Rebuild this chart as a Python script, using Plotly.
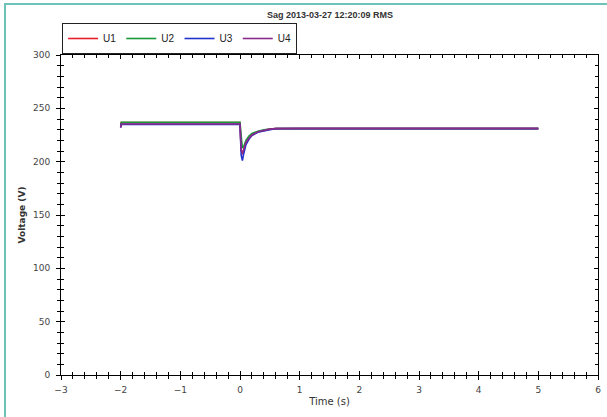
import plotly.graph_objects as go

# RMS voltage during the sag
time_s = [-2.0, -1.99, -0.01, 0.0, 0.02, 0.04, 0.06, 0.08, 0.1, 0.15, 0.2, 0.3, 0.4, 0.5, 0.6, 1.0, 5.0]
u1 = [233, 236.6, 236.6, 236.6, 211, 207, 211, 215, 218, 222, 225, 228, 229.5, 230.5, 231, 231, 231]
u2 = [234, 236.9, 236.9, 236.9, 224, 213, 214, 217, 220, 224, 226.5, 228.5, 230, 230.5, 231, 231, 231]
u3 = [232, 235.0, 235.0, 235.0, 206, 201, 207, 212, 216, 221, 224.5, 227.5, 229, 230, 231, 231, 231]
u4 = [232, 235.3, 235.3, 235.3, 211, 208, 211, 215, 218, 222, 225, 228, 229.5, 230.5, 231, 231.2, 231.2]

names = ["U1", "U2", "U3", "U4"]
series = [u1, u2, u3, u4]
colors = ["#e8202a", "#1a9a3a", "#2233cc", "#8a2a8a"]

fig = go.Figure()
for name, vals, col in zip(names, series, colors):
    fig.add_trace(go.Scatter(x=time_s, y=vals, mode="lines", name=name,
                             line=dict(color=col, width=1.6)))

# invisible trace on the overlay axes so the inner ticks are drawn
fig.add_trace(go.Scatter(x=[-3, 6], y=[0, 300], xaxis="x2", yaxis="y2",
                         mode="markers", marker=dict(opacity=0),
                         showlegend=False, hoverinfo="skip"))

font = "DejaVu Sans, Verdana, sans-serif"
tick_font = dict(family=font, size=9, color="#444")

fig.update_layout(
    width=607, height=417,
    margin=dict(l=61, r=9, t=55, b=42, autoexpand=False),
    paper_bgcolor="white", plot_bgcolor="white",
    title=dict(text="<b>Sag 2013-03-27 12:20:09 RMS</b>", x=0.5437, xanchor="center",
               y=0.964, yanchor="middle",
               font=dict(family="Liberation Sans, Arial, sans-serif", size=9, color="#333")),
    legend=dict(orientation="h", x=0.002, xanchor="left", y=1.1, yanchor="top",
                bordercolor="#222", borderwidth=1, bgcolor="white",
                font=dict(family="Liberation Sans, Arial, sans-serif", size=10, color="#222"),
                itemwidth=30, tracegroupgap=0),
    showlegend=True,
    xaxis=dict(range=[-3, 6], dtick=1, tick0=-3, ticks="outside", ticklen=4, tickwidth=1,
               tickcolor="black", showline=True, linecolor="black", linewidth=1,
               mirror=True, showgrid=False, zeroline=False, tickfont=tick_font,
               automargin=False, ticklabelstandoff=2,
               minor=dict(dtick=0.2, ticks="outside", ticklen=3, tickcolor="black"),
               title=dict(text="Time (s)", standoff=4,
                          font=dict(family=font, size=10, color="#333"))),
    yaxis=dict(range=[0, 300], dtick=50, ticks="outside", ticklen=4, tickwidth=1,
               tickcolor="black", showline=True, linecolor="black", linewidth=1,
               mirror=True, showgrid=False, zeroline=False, tickfont=tick_font,
               automargin=False, ticklabelstandoff=4,
               minor=dict(dtick=10, ticks="outside", ticklen=3, tickcolor="black"),
               title=dict(text="<b>Voltage (V)</b>", standoff=5,
                          font=dict(family=font, size=9, color="#333"))),
    xaxis2=dict(overlaying="x", range=[-3, 6], dtick=1, tick0=-3, ticks="inside",
                ticklen=4, tickcolor="black", mirror="ticks", showticklabels=False,
                showgrid=False, zeroline=False, showline=False, automargin=False,
                minor=dict(dtick=0.2, ticks="inside", ticklen=3, tickcolor="black")),
    yaxis2=dict(overlaying="y", range=[0, 300], dtick=50, ticks="inside",
                ticklen=4, tickcolor="black", mirror="ticks", showticklabels=False,
                showgrid=False, zeroline=False, showline=False, automargin=False,
                minor=dict(dtick=10, ticks="inside", ticklen=3, tickcolor="black")),
)

# teal frame round the whole picture
fig.add_shape(type="rect", xref="paper", yref="paper",
              x0=-0.1043, x1=1.022, y0=-0.14, y1=1.159,
              line=dict(color="#6cc3b8", width=2), layer="below")

# the page's default body margin would push the figure 8px in
fig.write_html("out.html", config={"displayModeBar": False},
               post_script="document.body.style.margin='0';")
